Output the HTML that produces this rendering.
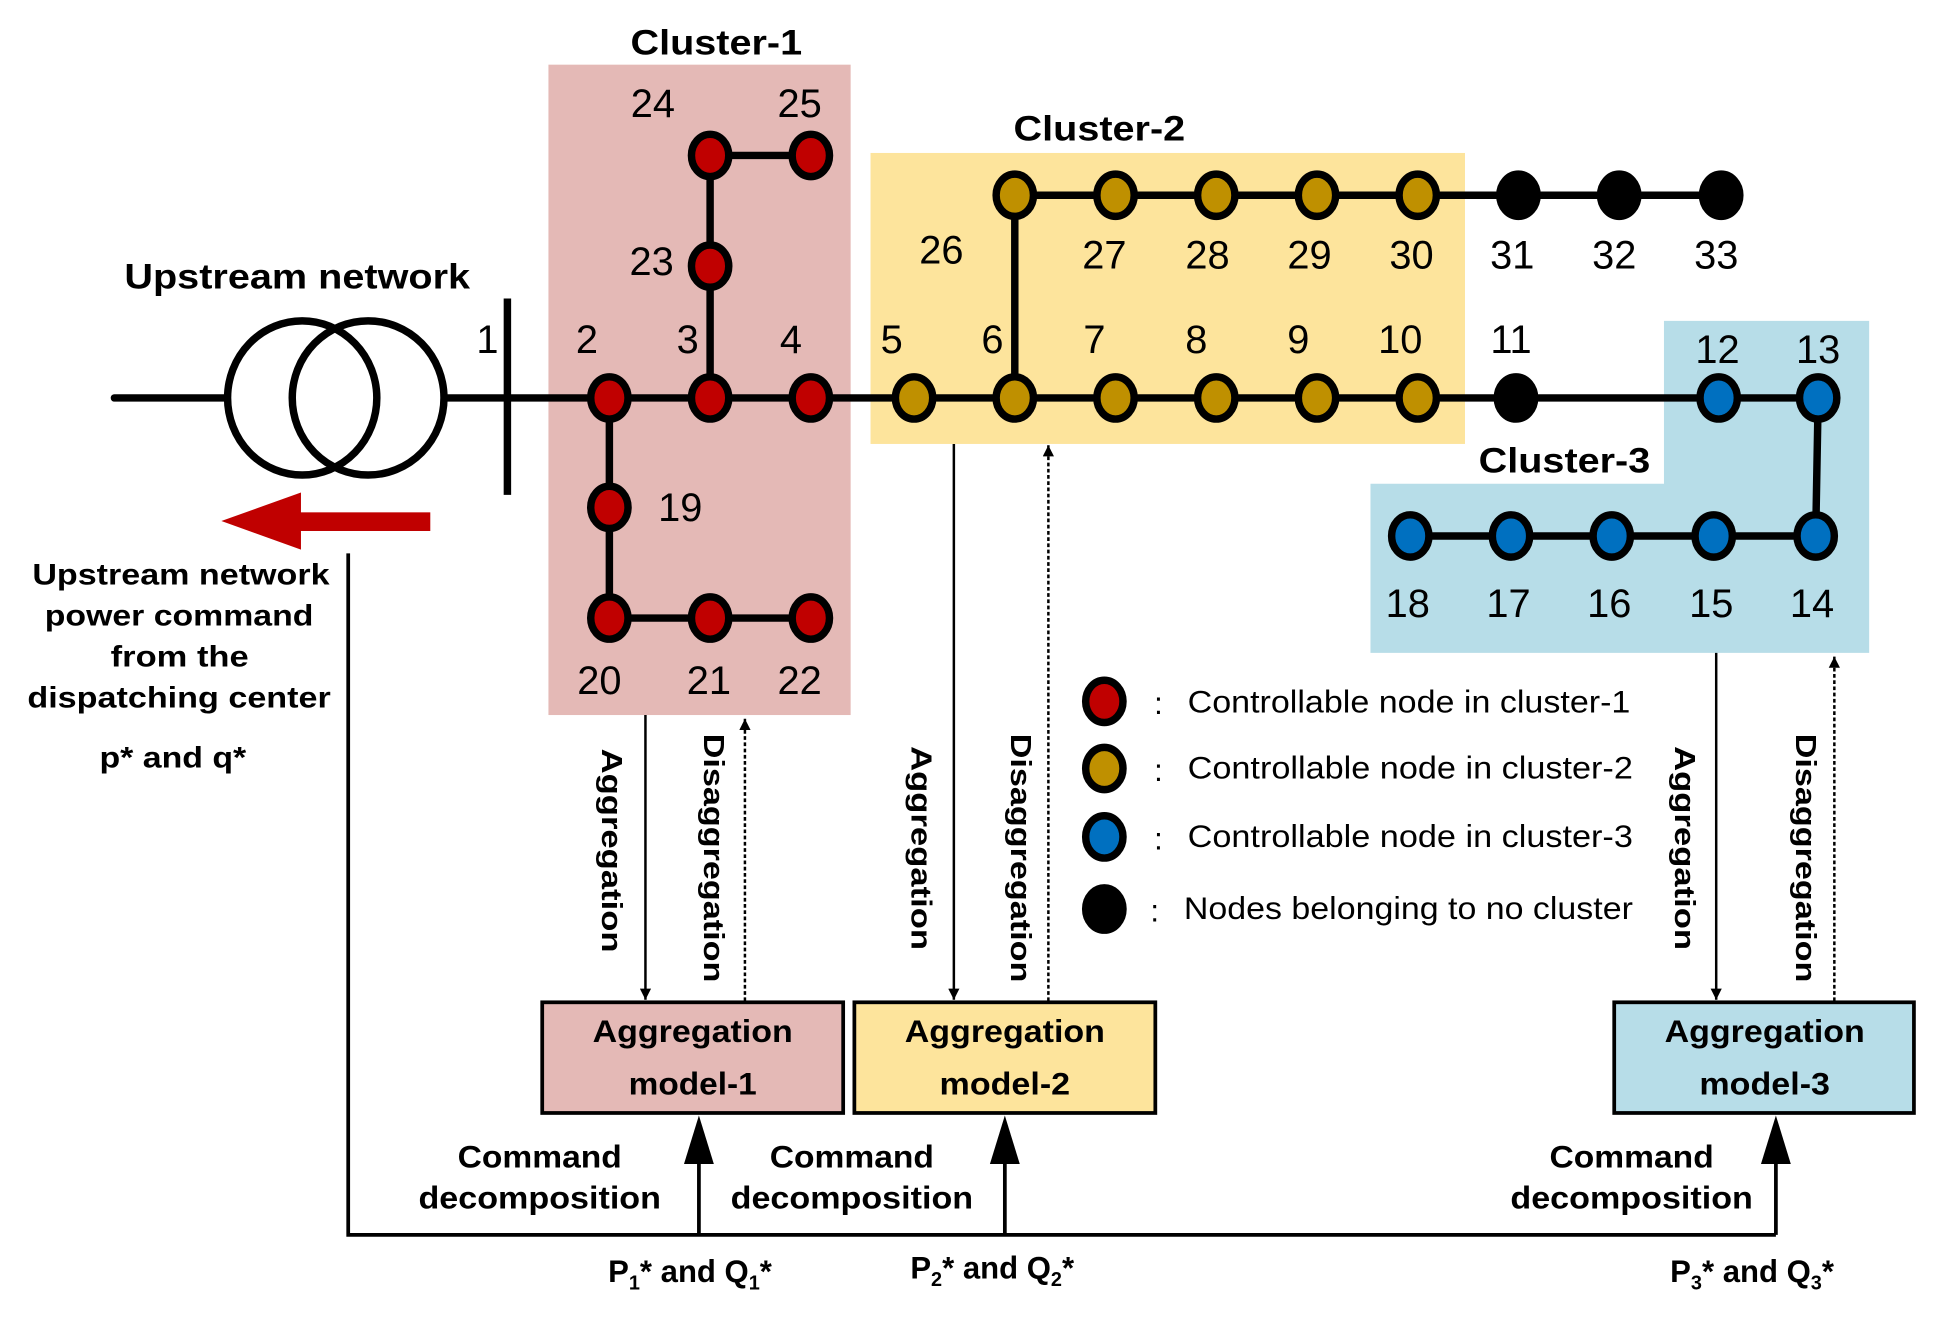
<!DOCTYPE html>
<html><head><meta charset="utf-8"><style>html,body{margin:0;padding:0;background:#fff;}svg{display:block;}</style></head><body>
<svg width="1950" height="1325" viewBox="0 0 1568 1065.5" preserveAspectRatio="none" xmlns="http://www.w3.org/2000/svg" font-family="Liberation Sans, Arial, sans-serif">
<defs>
<marker id="ah" viewBox="0 0 10 10" refX="10" refY="5" markerWidth="9" markerHeight="9" markerUnits="userSpaceOnUse" orient="auto"><path d="M0,0 L10,5 L0,10 z" fill="#000"/></marker>
</defs>
<rect x="441" y="52" width="243" height="523" fill="#e4b9b6"/>
<rect x="700" y="123" width="478" height="234" fill="#fde49c"/>
<path d="M1338,258 H1503 V525 H1102 V389 H1338 Z" fill="#b7dde8"/>
<g stroke="#000" stroke-width="6" fill="none" stroke-linecap="round">
<line x1="92" y1="320" x2="182" y2="320"/>
<line x1="358" y1="320" x2="1462" y2="320"/>
<line x1="571" y1="125" x2="571" y2="320"/>
<line x1="571" y1="125" x2="652" y2="125"/>
<line x1="490" y1="320" x2="490" y2="497"/>
<line x1="490" y1="497" x2="652" y2="497"/>
<line x1="816" y1="157" x2="816" y2="320"/>
<line x1="816" y1="157" x2="1384" y2="157"/>
<line x1="1462" y1="320" x2="1460" y2="431"/>
<line x1="1134" y1="431" x2="1460" y2="431"/>
<line x1="408" y1="240" x2="408" y2="398" stroke-linecap="butt"/>
<ellipse cx="243" cy="320" rx="60" ry="62"/>
<ellipse cx="296" cy="320" rx="61" ry="62"/>
</g>
<rect x="238" y="412" width="108" height="15" fill="#c00000"/>
<path d="M178,419 L242,396 L242,442 Z" fill="#c00000"/>
<g stroke="#000" stroke-width="6">
<g fill="#c00000">
<ellipse cx="490" cy="320" rx="15" ry="17"/><ellipse cx="571" cy="320" rx="15" ry="17"/><ellipse cx="652" cy="320" rx="15" ry="17"/>
<ellipse cx="571" cy="214" rx="15" ry="17"/><ellipse cx="571" cy="125" rx="15" ry="17"/><ellipse cx="652" cy="125" rx="15" ry="17"/>
<ellipse cx="490" cy="408" rx="15" ry="17"/><ellipse cx="490" cy="497" rx="15" ry="17"/><ellipse cx="571" cy="497" rx="15" ry="17"/><ellipse cx="652" cy="497" rx="15" ry="17"/>
<ellipse cx="888" cy="564" rx="15" ry="17"/>
</g>
<g fill="#bf9000">
<ellipse cx="735" cy="320" rx="15" ry="17"/><ellipse cx="816" cy="320" rx="15" ry="17"/><ellipse cx="897" cy="320" rx="15" ry="17"/><ellipse cx="978" cy="320" rx="15" ry="17"/><ellipse cx="1059" cy="320" rx="15" ry="17"/><ellipse cx="1140" cy="320" rx="15" ry="17"/>
<ellipse cx="816" cy="157" rx="15" ry="17"/><ellipse cx="897" cy="157" rx="15" ry="17"/><ellipse cx="978" cy="157" rx="15" ry="17"/><ellipse cx="1059" cy="157" rx="15" ry="17"/><ellipse cx="1140" cy="157" rx="15" ry="17"/>
<ellipse cx="888" cy="618" rx="15" ry="17"/>
</g>
<g fill="#0070c0">
<ellipse cx="1382" cy="320" rx="15" ry="17"/><ellipse cx="1462" cy="320" rx="15" ry="17"/>
<ellipse cx="1460" cy="431" rx="15" ry="17"/><ellipse cx="1378" cy="431" rx="15" ry="17"/><ellipse cx="1296" cy="431" rx="15" ry="17"/><ellipse cx="1215" cy="431" rx="15" ry="17"/><ellipse cx="1134" cy="431" rx="15" ry="17"/>
<ellipse cx="888" cy="673" rx="15" ry="17"/>
</g>
<g fill="#000">
<ellipse cx="1221" cy="157" rx="15" ry="17"/><ellipse cx="1302" cy="157" rx="15" ry="17"/><ellipse cx="1384" cy="157" rx="15" ry="17"/>
<ellipse cx="1219" cy="320" rx="15" ry="17"/><ellipse cx="888" cy="731" rx="15" ry="17"/>
</g>
</g>
<g font-size="32" fill="#000" text-anchor="middle">
<text x="392" y="284">1</text><text x="472" y="284">2</text><text x="553" y="284">3</text><text x="636" y="284">4</text>
<text x="717" y="284">5</text><text x="798" y="284">6</text><text x="880" y="284">7</text><text x="962" y="284">8</text><text x="1044" y="284">9</text><text x="1126" y="284">10</text><text x="1215" y="284">11</text>
<text x="1381" y="292">12</text><text x="1462" y="292">13</text>
<text x="525" y="94">24</text><text x="643" y="94">25</text><text x="524" y="221">23</text><text x="547" y="419">19</text>
<text x="482" y="558">20</text><text x="570" y="558">21</text><text x="643" y="558">22</text>
<text x="757" y="212">26</text><text x="888" y="216">27</text><text x="971" y="216">28</text><text x="1053" y="216">29</text><text x="1135" y="216">30</text><text x="1216" y="216">31</text><text x="1298" y="216">32</text><text x="1380" y="216">33</text>
<text x="1132" y="496">18</text><text x="1213" y="496">17</text><text x="1294" y="496">16</text><text x="1376" y="496">15</text><text x="1457" y="496">14</text>
</g>
<g font-size="28" font-weight="bold" fill="#000">
<text x="507" y="44" textLength="138" lengthAdjust="spacingAndGlyphs">Cluster-1</text>
<text x="815" y="113" textLength="138" lengthAdjust="spacingAndGlyphs">Cluster-2</text>
<text x="1189" y="380" textLength="138" lengthAdjust="spacingAndGlyphs">Cluster-3</text>
<text x="100" y="232" textLength="278" lengthAdjust="spacingAndGlyphs">Upstream network</text>
</g>
<g font-size="24" font-weight="bold" fill="#000">
<text x="26" y="470" textLength="239" lengthAdjust="spacingAndGlyphs">Upstream network</text>
<text x="36" y="503" textLength="216" lengthAdjust="spacingAndGlyphs">power command</text>
<text x="89" y="536" textLength="111" lengthAdjust="spacingAndGlyphs">from the</text>
<text x="22" y="569" textLength="244" lengthAdjust="spacingAndGlyphs">dispatching center</text>
<text x="80" y="617" textLength="118" lengthAdjust="spacingAndGlyphs">p* and q*</text>
</g>
<g font-size="25" fill="#000">
<text x="928" y="574">:</text><text x="955" y="573" textLength="356" lengthAdjust="spacingAndGlyphs">Controllable node in cluster-1</text>
<text x="928" y="628">:</text><text x="955" y="626" textLength="358" lengthAdjust="spacingAndGlyphs">Controllable node in cluster-2</text>
<text x="928" y="683">:</text><text x="955" y="681" textLength="358" lengthAdjust="spacingAndGlyphs">Controllable node in cluster-3</text>
<text x="925" y="741">:</text><text x="952" y="739" textLength="361" lengthAdjust="spacingAndGlyphs">Nodes belonging to no cluster</text>
</g>
<g stroke="#000" stroke-width="2" fill="none">
<line x1="519" y1="575" x2="519" y2="804" marker-end="url(#ah)"/>
<line x1="599" y1="805" x2="599" y2="578" stroke-dasharray="3,2" marker-end="url(#ah)"/>
<line x1="767" y1="357" x2="767" y2="804" marker-end="url(#ah)"/>
<line x1="843" y1="805" x2="843" y2="358" stroke-dasharray="3,2" marker-end="url(#ah)"/>
<line x1="1380" y1="525" x2="1380" y2="804" marker-end="url(#ah)"/>
<line x1="1475" y1="805" x2="1475" y2="528" stroke-dasharray="3,2" marker-end="url(#ah)"/>
</g>
<g font-size="23" font-weight="bold" fill="#000" text-anchor="middle">
<text transform="translate(484,684) rotate(90)" textLength="164" lengthAdjust="spacingAndGlyphs">Aggregation</text>
<text transform="translate(566,690) rotate(90)" textLength="200" lengthAdjust="spacingAndGlyphs">Disaggregation</text>
<text transform="translate(733,682) rotate(90)" textLength="164" lengthAdjust="spacingAndGlyphs">Aggregation</text>
<text transform="translate(813,690) rotate(90)" textLength="200" lengthAdjust="spacingAndGlyphs">Disaggregation</text>
<text transform="translate(1347,682) rotate(90)" textLength="164" lengthAdjust="spacingAndGlyphs">Aggregation</text>
<text transform="translate(1444,690) rotate(90)" textLength="200" lengthAdjust="spacingAndGlyphs">Disaggregation</text>
</g>
<g stroke="#000" stroke-width="3">
<rect x="436" y="806" width="242" height="89" fill="#e4b9b6"/>
<rect x="687" y="806" width="242" height="89" fill="#fde49c"/>
<rect x="1298" y="806" width="241" height="89" fill="#b7dde8"/>
</g>
<g font-size="25" font-weight="bold" fill="#000" text-anchor="middle">
<text x="557" y="838" textLength="161" lengthAdjust="spacingAndGlyphs">Aggregation</text><text x="557" y="880" textLength="103" lengthAdjust="spacingAndGlyphs">model-1</text>
<text x="808" y="838" textLength="161" lengthAdjust="spacingAndGlyphs">Aggregation</text><text x="808" y="880" textLength="105" lengthAdjust="spacingAndGlyphs">model-2</text>
<text x="1419" y="838" textLength="161" lengthAdjust="spacingAndGlyphs">Aggregation</text><text x="1419" y="880" textLength="105" lengthAdjust="spacingAndGlyphs">model-3</text>
<text x="434" y="939" textLength="132" lengthAdjust="spacingAndGlyphs">Command</text><text x="434" y="972" textLength="195" lengthAdjust="spacingAndGlyphs">decomposition</text>
<text x="685" y="939" textLength="132" lengthAdjust="spacingAndGlyphs">Command</text><text x="685" y="972" textLength="195" lengthAdjust="spacingAndGlyphs">decomposition</text>
<text x="1312" y="939" textLength="132" lengthAdjust="spacingAndGlyphs">Command</text><text x="1312" y="972" textLength="195" lengthAdjust="spacingAndGlyphs">decomposition</text>
</g>
<g font-size="25" font-weight="bold" fill="#000">
<text x="489" y="1031">P<tspan font-size="16" dy="6">1</tspan><tspan dy="-6">* and Q</tspan><tspan font-size="16" dy="6">1</tspan><tspan dy="-6">*</tspan></text>
<text x="732" y="1028">P<tspan font-size="16" dy="6">2</tspan><tspan dy="-6">* and Q</tspan><tspan font-size="16" dy="6">2</tspan><tspan dy="-6">*</tspan></text>
<text x="1343" y="1031">P<tspan font-size="16" dy="6">3</tspan><tspan dy="-6">* and Q</tspan><tspan font-size="16" dy="6">3</tspan><tspan dy="-6">*</tspan></text>
</g>
<g stroke="#000" stroke-width="3" fill="none">
<polyline points="280,445 280,993 1428,993"/>
<line x1="562" y1="993" x2="562" y2="920"/>
<line x1="808" y1="993" x2="808" y2="920"/>
<line x1="1428" y1="993" x2="1428" y2="920"/>
</g>
<g fill="#000">
<path d="M550,936 L562,897 L574,936 Z"/>
<path d="M796,936 L808,897 L820,936 Z"/>
<path d="M1416,936 L1428,897 L1440,936 Z"/>
</g>
</svg>
</body></html>
